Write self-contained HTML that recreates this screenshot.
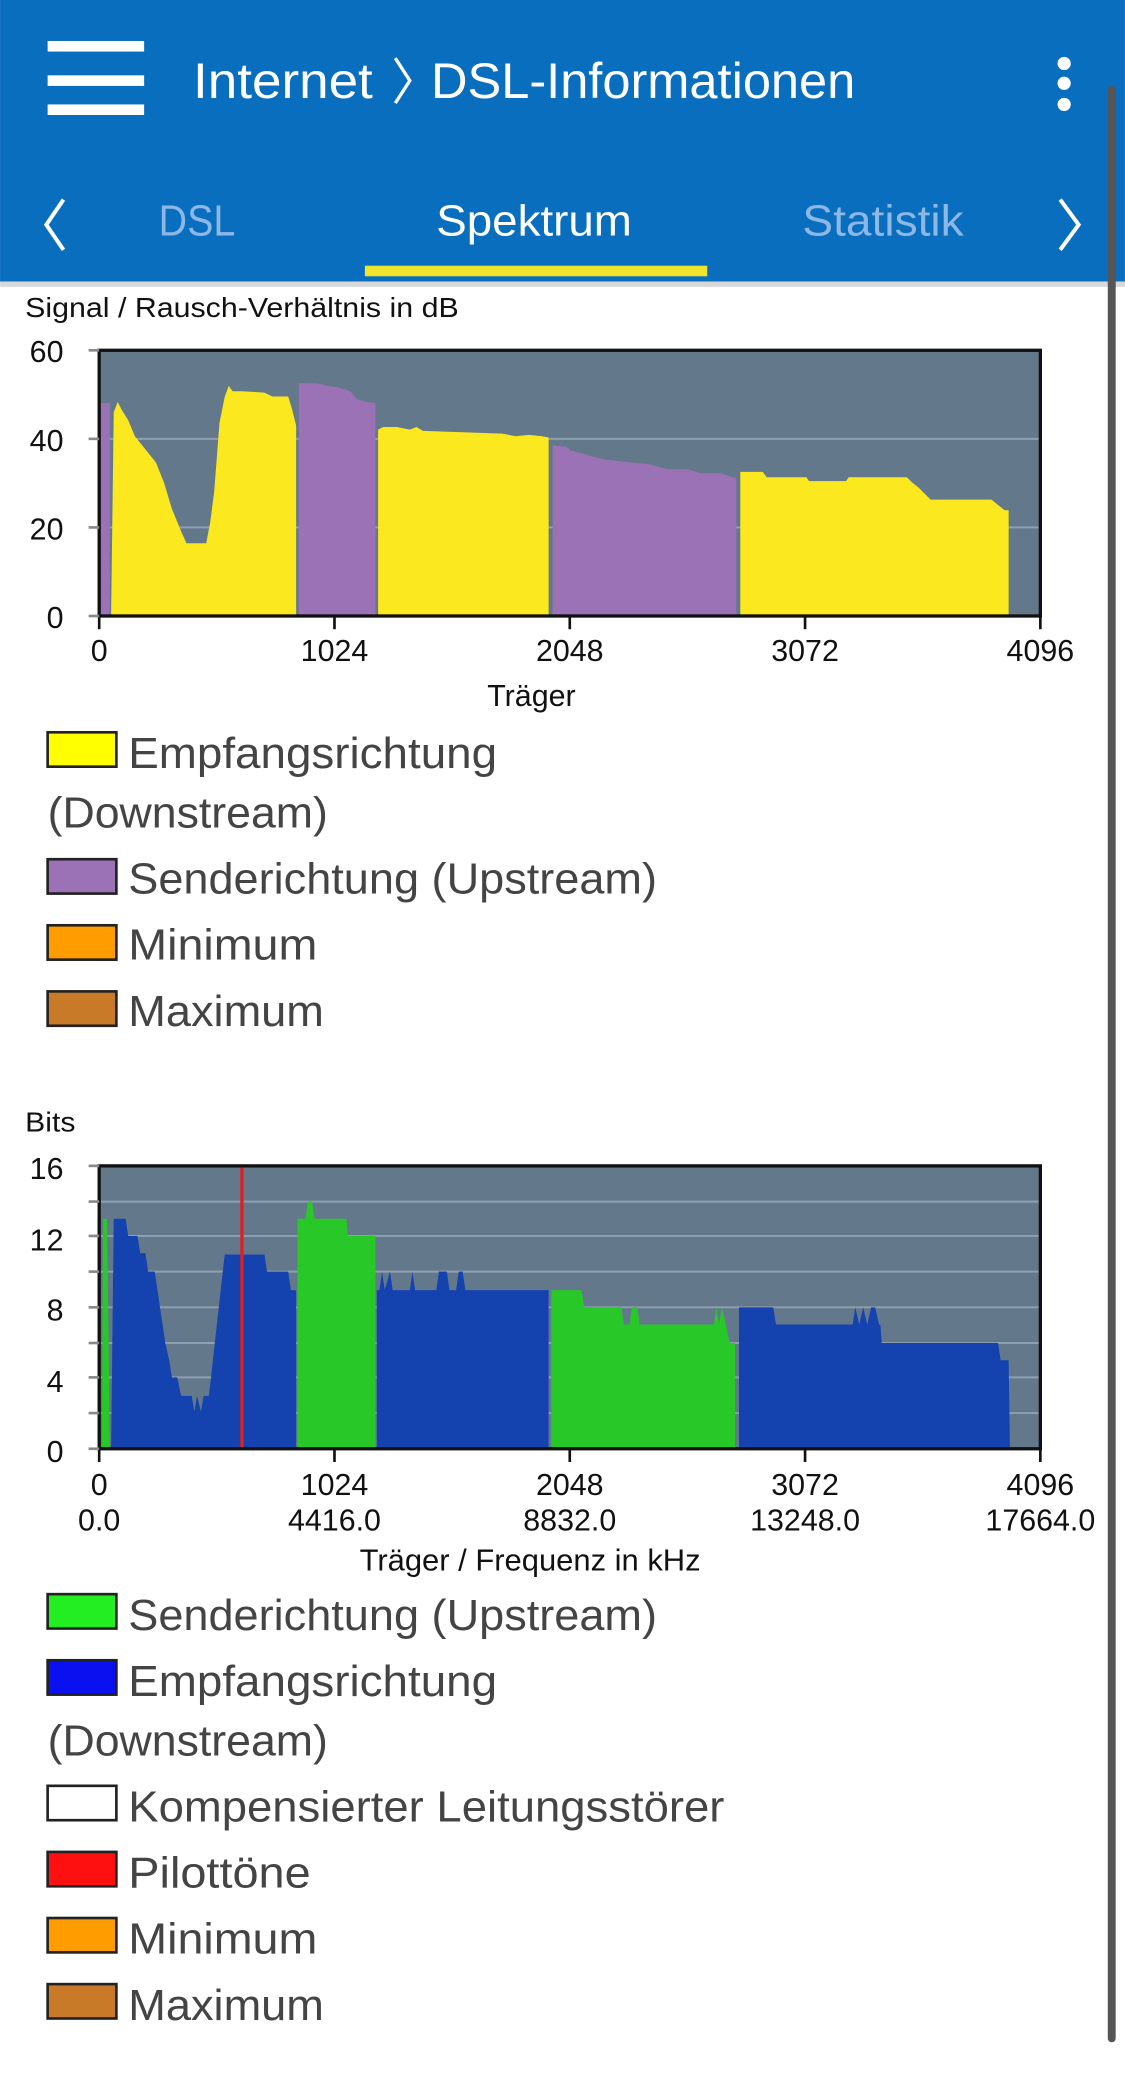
<!DOCTYPE html>
<html><head><meta charset="utf-8"><style>
html,body{margin:0;padding:0;background:#fff;}
svg{display:block;}
text{font-family:"Liberation Sans",sans-serif;}
</style></head><body>
<svg width="1125" height="2074" viewBox="0 0 851 1569" xmlns="http://www.w3.org/2000/svg">
<rect x="0" y="0" width="851" height="1569" fill="#fff"/>
<!-- header -->
<rect x="0" y="0" width="851" height="213" fill="#0a6ebf"/>
<rect x="0" y="213" width="851" height="4" fill="#d8d8d8"/>
<rect x="36" y="31" width="73" height="8" fill="#fff"/>
<rect x="36" y="57" width="73" height="8" fill="#fff"/>
<rect x="36" y="79" width="73" height="8" fill="#fff"/>
<text x="146" y="74" font-size="38" fill="#fff" textLength="136" lengthAdjust="spacingAndGlyphs">Internet</text>
<polyline points="299,44 310,61 299,78" fill="none" stroke="#fff" stroke-width="2.5"/>
<text x="326" y="74" font-size="38" fill="#fff" textLength="321" lengthAdjust="spacingAndGlyphs">DSL-Informationen</text>
<circle cx="805" cy="48" r="5" fill="#fff"/><circle cx="805" cy="63" r="5" fill="#fff"/><circle cx="805" cy="79" r="5" fill="#fff"/>
<polyline points="48,151 35,170 48,189" fill="none" stroke="#fff" stroke-width="3"/>
<polyline points="802,151 816,170 802,189" fill="none" stroke="#fff" stroke-width="3"/>
<text x="120" y="178" font-size="33" fill="#8db8e6" textLength="58" lengthAdjust="spacingAndGlyphs">DSL</text>
<text x="330" y="178" font-size="33" fill="#fff" textLength="148" lengthAdjust="spacingAndGlyphs">Spektrum</text>
<text x="607" y="178" font-size="33" fill="#8db8e6" textLength="122" lengthAdjust="spacingAndGlyphs">Statistik</text>
<rect x="276" y="201" width="259" height="8" fill="#f0e52c"/>
<!-- scrollbar -->
<rect x="838" y="65" width="6" height="1480" rx="3" fill="#555"/>

<!-- chart 1 -->
<text x="19" y="240" font-size="21" fill="#111" textLength="328" lengthAdjust="spacingAndGlyphs">Signal / Rausch-Verhältnis in dB</text>
<rect x="75" y="265" width="712" height="201" fill="#64788c"/>
<line x1="75" y1="332" x2="787" y2="332" stroke="#8ea0b0" stroke-width="1.5"/>
<line x1="75" y1="399" x2="787" y2="399" stroke="#8ea0b0" stroke-width="1.5"/>
<polygon fill="#9b72b6" points="76,466 76,305 83,305 83,466"/>
<polygon fill="#fce81e" points="84,466 86,312 89,304 92,310 97,318 102,330 110,340 118,350 124,365 130,385 137,402 141,411 156,411 159,395 162,372 166,320 170,300 173,292 176,296 183,296 200,297 206,300 218,300 221,310 224,322 224,466"/>
<polygon fill="#9b72b6" points="226,466 226,290 240,290 248,292 255,293 265,296 270,302 277,304 284,305 284,466"/>
<polygon fill="#fce81e" points="286,466 286,325 290,323 300,323 310,325 315,323 320,326 350,327 380,328 390,330 400,329 410,330 415,331 415,466"/>
<polygon fill="#9b72b6" points="418,466 418,337 428,338 432,341 440,343 450,346 460,348 478,350 490,351 505,355 520,355 530,358 545,358 557,362 557,466"/>
<polygon fill="#fce81e" points="560,466 560,357 577,357 580,361 610,361 612,364 640,364 642,361 686,361 690,365 695,369 700,374 704,378 750,378 755,382 760,386 763,386 763,466"/>
<rect x="75" y="265" width="712" height="201" fill="none" stroke="#111" stroke-width="2.5"/>
<g stroke="#111" stroke-width="2"><line x1="75" y1="466" x2="75" y2="476"/><line x1="253" y1="466" x2="253" y2="476"/><line x1="431" y1="466" x2="431" y2="476"/><line x1="609" y1="466" x2="609" y2="476"/><line x1="787" y1="466" x2="787" y2="476"/></g>
<g stroke="#888" stroke-width="2"><line x1="67" y1="265" x2="75" y2="265"/><line x1="67" y1="332" x2="75" y2="332"/><line x1="67" y1="399" x2="75" y2="399"/><line x1="67" y1="466" x2="75" y2="466"/></g>
<g font-size="23" fill="#111" text-anchor="end"><text x="48" y="274">60</text><text x="48" y="341">40</text><text x="48" y="408">20</text><text x="48" y="475">0</text></g>
<g font-size="23" fill="#111" text-anchor="middle"><text x="75" y="500">0</text><text x="253" y="500">1024</text><text x="431" y="500">2048</text><text x="609" y="500">3072</text><text x="787" y="500">4096</text></g>
<text x="402" y="534" font-size="23" fill="#111" text-anchor="middle">Träger</text>

<!-- legend 1 -->
<g stroke="#222" stroke-width="2">
<rect x="36" y="554" width="52" height="26" fill="#ffff00"/>
<rect x="36" y="650" width="52" height="26" fill="#9b72b6"/>
<rect x="36" y="700" width="52" height="26" fill="#ff9c00"/>
<rect x="36" y="750" width="52" height="26" fill="#c97a28"/>
</g>
<g font-size="33" fill="#444">
<text x="97" y="581" textLength="279" lengthAdjust="spacingAndGlyphs">Empfangsrichtung</text>
<text x="36" y="626" textLength="212" lengthAdjust="spacingAndGlyphs">(Downstream)</text>
<text x="97" y="676" textLength="400" lengthAdjust="spacingAndGlyphs">Senderichtung (Upstream)</text>
<text x="97" y="726" textLength="143" lengthAdjust="spacingAndGlyphs">Minimum</text>
<text x="97" y="776" textLength="148" lengthAdjust="spacingAndGlyphs">Maximum</text>
</g>

<!-- chart 2 -->
<text x="19" y="856" font-size="21" fill="#111" textLength="38" lengthAdjust="spacingAndGlyphs">Bits</text>
<rect x="75" y="882" width="712" height="214" fill="#64788c"/>
<g stroke="#8ea0b0" stroke-width="1.5">
<line x1="75" y1="909" x2="787" y2="909"/><line x1="75" y1="935" x2="787" y2="935"/><line x1="75" y1="962" x2="787" y2="962"/><line x1="75" y1="989" x2="787" y2="989"/><line x1="75" y1="1016" x2="787" y2="1016"/><line x1="75" y1="1042" x2="787" y2="1042"/><line x1="75" y1="1069" x2="787" y2="1069"/>
</g>
<polygon fill="#28c828" points="77,1096 78,922 81,922 83,1096"/>
<polygon fill="#1443b0" points="84,1096 86,922 95,922 97,935 104,935 106,948 110,948 112,962 117,962 119,975 121,989 123,1002 125,1016 128,1029 130,1042 134,1042 137,1056 145,1056 147,1068 149,1056 152,1068 154,1056 158,1056 161,1029 164,1002 167,975 170,949 200,949 202,962 218,962 220,976 224,976 224,1096"/>
<polygon fill="#28c828" points="225,1096 225,922 231,922 233,909 236,909 238,922 262,922 263,935 284,935 284,1096"/>
<polygon fill="#1443b0" points="285,1096 285,976 287,976 289,962 291,976 295,962 297,976 310,976 312,962 314,976 330,976 332,962 338,962 340,976 345,976 347,962 350,962 352,976 415,976 415,1096"/>
<polygon fill="#28c828" points="417,1096 417,976 440,976 442,989 470,989 472,1002 476,1002 478,989 482,989 484,1002 540,1002 542,989 544,1002 546,989 549,1002 552,1016 556,1016 556,1096"/>
<polygon fill="#1443b0" points="559,1096 559,989 585,989 587,1002 645,1002 647,989 650,1002 653,989 656,1002 659,989 662,989 665,1002 666,1002 667,1016 755,1016 757,1029 763,1029 764,1096"/>
<line x1="183" y1="882" x2="183" y2="1096" stroke="#e02020" stroke-width="2.5"/>
<rect x="75" y="882" width="712" height="214" fill="none" stroke="#111" stroke-width="2.5"/>
<g stroke="#111" stroke-width="2"><line x1="75" y1="1096" x2="75" y2="1106"/><line x1="253" y1="1096" x2="253" y2="1106"/><line x1="431" y1="1096" x2="431" y2="1106"/><line x1="609" y1="1096" x2="609" y2="1106"/><line x1="787" y1="1096" x2="787" y2="1106"/></g>
<g stroke="#888" stroke-width="2"><line x1="67" y1="882" x2="75" y2="882"/><line x1="67" y1="909" x2="75" y2="909"/><line x1="67" y1="935" x2="75" y2="935"/><line x1="67" y1="962" x2="75" y2="962"/><line x1="67" y1="989" x2="75" y2="989"/><line x1="67" y1="1016" x2="75" y2="1016"/><line x1="67" y1="1042" x2="75" y2="1042"/><line x1="67" y1="1069" x2="75" y2="1069"/><line x1="67" y1="1096" x2="75" y2="1096"/></g>
<g font-size="23" fill="#111" text-anchor="end"><text x="48" y="892">16</text><text x="48" y="946">12</text><text x="48" y="999">8</text><text x="48" y="1053">4</text><text x="48" y="1106">0</text></g>
<g font-size="23" fill="#111" text-anchor="middle"><text x="75" y="1131">0</text><text x="253" y="1131">1024</text><text x="431" y="1131">2048</text><text x="609" y="1131">3072</text><text x="787" y="1131">4096</text>
<text x="75" y="1158">0.0</text><text x="253" y="1158">4416.0</text><text x="431" y="1158">8832.0</text><text x="609" y="1158">13248.0</text><text x="787" y="1158">17664.0</text></g>
<text x="401" y="1188" font-size="23" fill="#111" text-anchor="middle" textLength="258" lengthAdjust="spacingAndGlyphs">Träger / Frequenz in kHz</text>

<!-- legend 2 -->
<g stroke="#222" stroke-width="2">
<rect x="36" y="1206" width="52" height="26" fill="#22ee22"/>
<rect x="36" y="1256" width="52" height="26" fill="#0a10f0"/>
<rect x="36" y="1351" width="52" height="26" fill="#ffffff"/>
<rect x="36" y="1401" width="52" height="26" fill="#ff1010"/>
<rect x="36" y="1451" width="52" height="26" fill="#ff9c00"/>
<rect x="36" y="1501" width="52" height="26" fill="#c97a28"/>
</g>
<g font-size="33" fill="#444">
<text x="97" y="1233" textLength="400" lengthAdjust="spacingAndGlyphs">Senderichtung (Upstream)</text>
<text x="97" y="1283" textLength="279" lengthAdjust="spacingAndGlyphs">Empfangsrichtung</text>
<text x="36" y="1328" textLength="212" lengthAdjust="spacingAndGlyphs">(Downstream)</text>
<text x="97" y="1378" textLength="451" lengthAdjust="spacingAndGlyphs">Kompensierter Leitungsstörer</text>
<text x="97" y="1428" textLength="138" lengthAdjust="spacingAndGlyphs">Pilottöne</text>
<text x="97" y="1478" textLength="143" lengthAdjust="spacingAndGlyphs">Minimum</text>
<text x="97" y="1528" textLength="148" lengthAdjust="spacingAndGlyphs">Maximum</text>
</g>
</svg>
</body></html>
